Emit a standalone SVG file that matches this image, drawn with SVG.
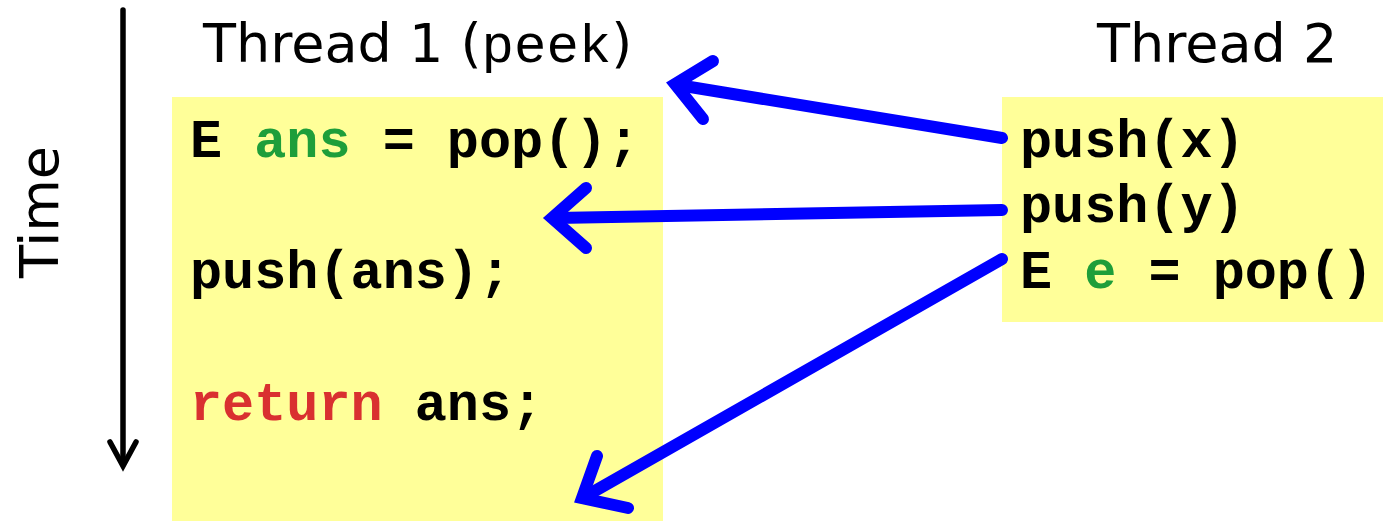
<svg xmlns="http://www.w3.org/2000/svg" width="1383" height="521" viewBox="0 0 1383 521">
  <style>
    .box { fill: #FFFF99; }
    .head { font-family: "DejaVu Sans", "Liberation Sans", sans-serif; font-size: 54px; fill: #000; }
    .code { font-family: "Liberation Mono", "Courier New", monospace; font-weight: bold; font-size: 53.5px; fill: #000; }
    .var { fill: #1E9E3A; }
    .kw { fill: #D93030; }
    .flow { fill: none; stroke: #0000FF; stroke-width: 12; stroke-linecap: round; stroke-linejoin: miter; stroke-miterlimit: 6; }
    .time { fill: none; stroke: #000; stroke-width: 5.5; stroke-linecap: round; stroke-linejoin: miter; stroke-miterlimit: 6; }
  </style>

  <!-- time axis -->
  <g id="time-axis">
    <line class="time" x1="123" y1="10" x2="123" y2="462"/>
    <polyline class="time" points="110,442 123,466 136,442"/>
    <text class="head" transform="translate(58,212) rotate(-90)" text-anchor="middle">Time</text>
  </g>

  <!-- thread 1 -->
  <g id="thread1">
    <text class="head" x="203" y="62">Thread 1 (<tspan style="font-family:'Liberation Mono','Courier New',monospace">peek</tspan>)</text>
    <rect class="box" x="172" y="97" width="491" height="424"/>
    <text class="code" x="190" y="157">E <tspan class="var">ans</tspan> = pop();</text>
    <text class="code" x="190" y="288">push(ans);</text>
    <text class="code" x="190" y="420"><tspan class="kw">return</tspan> ans;</text>
  </g>

  <!-- thread 2 -->
  <g id="thread2">
    <text class="head" x="1097" y="62">Thread 2</text>
    <rect class="box" x="1002" y="97" width="381" height="225"/>
    <text class="code" x="1020" y="157">push(x)</text>
    <text class="code" x="1020" y="222">push(y)</text>
    <text class="code" x="1020" y="288">E <tspan class="var">e</tspan> = pop()</text>
  </g>

  <!-- interleaving connectors -->
  <g id="connectors">
    <line class="flow" x1="1002" y1="138" x2="678" y2="85" stroke-linecap="butt"/>
    <polyline class="flow" points="713,61 675,84 703,119"/>
    <line class="flow" x1="1002" y1="210" x2="556" y2="218" stroke-linecap="butt"/>
    <polyline class="flow" points="586,188 552,218 586,248"/>
    <line class="flow" x1="1002" y1="259" x2="586" y2="496" stroke-linecap="butt"/>
    <polyline class="flow" points="597,456 582,498 628,508"/>
  </g>
</svg>
